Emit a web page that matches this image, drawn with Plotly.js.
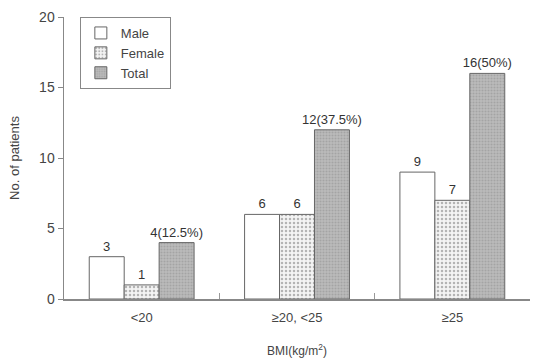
<!DOCTYPE html>
<html>
<head>
<meta charset="utf-8">
<script src="https://cdn.plot.ly/plotly-3.0.1.min.js"></script>
<style>html,body{margin:0;padding:0;background:#fff;}#chart{width:533px;height:361px;}</style>
</head>
<body>
<div id="chart"></div>
<script>
const categories = ["<20", "≥20, <25", "≥25"];
const male = [3, 6, 9];
const female = [1, 6, 7];
const total = [4, 12, 16];
const maleLabels = ["3", "6", "9"];
const femaleLabels = ["1", "6", "7"];
const totalLabels = ["4(12.5%)", "12(37.5%)", "16(50%)"];

const txtFont = {family: "Liberation Sans, Arial, sans-serif", size: 13, color: "#333"};
const traces = [
  {type: "bar", name: "Male", x: categories, y: male, text: maleLabels,
   textposition: "outside", constraintext: "none", textfont: txtFont, cliponaxis: false,
   marker: {color: "#ffffff", line: {color: "#666", width: 1}}},
  {type: "bar", name: "Female", x: categories, y: female, text: femaleLabels,
   textposition: "outside", constraintext: "none", textfont: txtFont, cliponaxis: false,
   marker: {color: "#ececec", line: {color: "#666", width: 1},
     pattern: {shape: ".", bgcolor: "#f4f4f4", fgcolor: "#b4b4b4", size: 4, solidity: 0.3}}},
  {type: "bar", name: "Total", x: categories, y: total, text: totalLabels,
   textposition: "outside", constraintext: "none", textfont: txtFont, cliponaxis: false,
   marker: {color: "#b8b8b8", line: {color: "#666", width: 1},
     pattern: {shape: ".", bgcolor: "#bcbcbc", fgcolor: "#a4a4a4", size: 3, solidity: 0.4}}}
];

const layout = {
  width: 533, height: 361,
  margin: {l: 64, r: 3, t: 17, b: 62},
  paper_bgcolor: "#fff", plot_bgcolor: "#fff",
  font: {family: "Liberation Sans, Arial, sans-serif", size: 13, color: "#444"},
  barmode: "group", bargap: 0.325, bargroupgap: 0,
  showlegend: true,
  legend: {x: 0.034, y: 1.0, xanchor: "left", yanchor: "top",
    bordercolor: "#888", borderwidth: 1, bgcolor: "#fff",
    font: {size: 13, color: "#444"}, tracegroupgap: 0, itemwidth: 30},
  xaxis: {
    showline: true, linecolor: "#888", linewidth: 1.5,
    ticks: "inside", tickson: "boundaries", ticklen: 6, tickcolor: "#999",
    ticklabelstandoff: 6,
    showgrid: false, zeroline: false,
    tickfont: {size: 13, color: "#444"},
    title: {text: "BMI(kg/m<sup>2</sup>)", font: {size: 12, color: "#444"}, standoff: 22}
  },
  yaxis: {
    range: [0, 20], tickvals: [0, 5, 10, 15, 20],
    showline: true, linecolor: "#888", linewidth: 1.5,
    ticks: "outside", ticklen: 5, tickcolor: "#888",
    showgrid: false, zeroline: false,
    tickfont: {size: 14, color: "#444"},
    title: {text: "No. of patients", font: {size: 13, color: "#444"}, standoff: 16}
  }
};

Plotly.newPlot("chart", traces, layout, {displayModeBar: false, staticPlot: true});
</script>
</body>
</html>
